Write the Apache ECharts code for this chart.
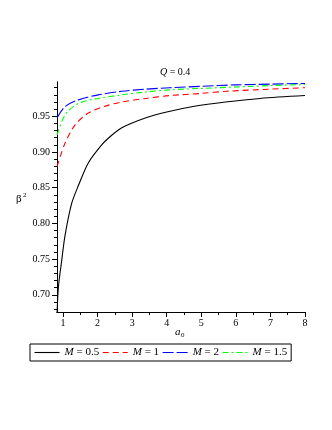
<!DOCTYPE html>
<html><head><meta charset="utf-8">
<script src="https://cdn.jsdelivr.net/npm/echarts@6/dist/echarts.min.js"></script>
<style>html,body{margin:0;padding:0;background:#fff}#c{width:332px;height:430px}</style>
</head><body><div id="c"></div>
<script>
var titleText = 'Q = 0.4';
var seriesNames = ['M = 0.5', 'M = 1', 'M = 2', 'M = 1.5'];
var xTickLabels = [1, 2, 3, 4, 5, 6, 7, 8];
var yTickLabels = [0.70, 0.75, 0.80, 0.85, 0.90, 0.95];

var aM05 = [0.83, 0.867, 0.962, 1.058, 1.25, 1.445, 1.735, 2.12, 2.35, 2.70, 3.4, 4.0, 4.8, 5.7, 6.7, 8.0];
var bM05 = [0.676, 0.711, 0.748, 0.783, 0.828, 0.853, 0.885, 0.910, 0.921, 0.934, 0.948, 0.956, 0.964, 0.970, 0.975, 0.979];

var aM1 = [0.83, 1.06, 1.35, 1.73, 2.21, 2.70, 3.4, 4.09, 5.0, 5.73, 7.0, 8.0];
var bM1 = [0.880, 0.9125, 0.938, 0.9545, 0.964, 0.970, 0.975, 0.979, 0.982, 0.985, 0.988, 0.990];

var aM2 = [0.83, 1.06, 1.445, 2.02, 2.70, 3.4, 4.09, 5.0, 6.0, 7.0, 8.0];
var bM2 = [0.948, 0.9636, 0.973, 0.980, 0.985, 0.988, 0.990, 0.992, 0.994, 0.995, 0.996];

var aM15 = [0.83, 1.06, 1.445, 2.02, 2.70, 3.4, 4.09, 5.0, 6.0, 7.0, 8.0];
var bM15 = [0.924, 0.952, 0.968, 0.975, 0.980, 0.984, 0.987, 0.989, 0.991, 0.993, 0.9945];

function pairs(a, b) { return a.map(function (v, i) { return [v, b[i]]; }); }

var xMinor = [];
for (var i = 1; i <= 8.001; i += 0.5) xMinor.push(+i.toFixed(1));
var yMinor = [];
for (var j = 68; j <= 99; j++) yMinor.push(j / 100);

var FONT = 'Liberation Serif';
var chart = echarts.init(document.getElementById('c'), null, {renderer: 'canvas'});

function mkSeries(name, a, b, color, dash) {
  return {
    name: name, type: 'line', data: pairs(a, b), showSymbol: false, symbol: 'none',
    smooth: 0.3, xAxisIndex: 0, yAxisIndex: 0,
    lineStyle: {color: color, width: 1.1, type: dash}, itemStyle: {color: color},
    animation: false
  };
}

var grid = {left: 57, right: 27, top: 82, bottom: 118};
var xCommon = {type: 'value', min: 0.826, max: 8, position: 'bottom', offset: 0, splitLine: {show: false},
  axisLine: {onZero: false, lineStyle: {color: '#000', width: 1}}};
var yCommon = {type: 'value', min: 0.676, max: 0.998, position: 'left', offset: 0, splitLine: {show: false},
  axisLine: {onZero: false, lineStyle: {color: '#000', width: 1}}};

chart.setOption({
  backgroundColor: '#fff',
  animation: false,
  grid: grid,
  xAxis: [
    Object.assign({}, xCommon, {
      axisTick: {show: true, length: 3, customValues: xMinor, lineStyle: {color: '#000'}},
      axisLabel: {show: false}
    }),
    Object.assign({}, xCommon, {
      axisTick: {show: true, length: 5, customValues: xTickLabels, lineStyle: {color: '#000'}},
      axisLabel: {show: true, customValues: xTickLabels, fontFamily: FONT, fontSize: 10, color: '#000', margin: 6}
    })
  ],
  yAxis: [
    Object.assign({}, yCommon, {
      axisTick: {show: true, length: 3, customValues: yMinor, lineStyle: {color: '#000'}},
      axisLabel: {show: false}
    }),
    Object.assign({}, yCommon, {
      axisTick: {show: true, length: 5, customValues: yTickLabels, lineStyle: {color: '#000'}},
      axisLabel: {show: true, customValues: yTickLabels, fontFamily: FONT, fontSize: 10, color: '#000', margin: 7,
        formatter: function (v) { return v.toFixed(2); }}
    })
  ],
  legend: {
    left: 30, top: 344, orient: 'horizontal', selectedMode: false,
    itemWidth: 25, itemHeight: 10, itemGap: 3,
    padding: [3, 4], borderColor: '#000', borderWidth: 1,
    itemStyle: {opacity: 0},
    lineStyle: {width: 1.1},
    data: seriesNames,
    textStyle: {fontFamily: FONT, fontSize: 11, color: '#000', lineHeight: 11,
      rich: {i: {fontFamily: FONT, fontSize: 11, fontStyle: 'italic', color: '#000'},
             n: {fontFamily: FONT, fontSize: 11, color: '#000'}}},
    formatter: function (name) {
      var parts = name.split(' ');
      return '{i|' + parts[0] + '}{n| ' + parts.slice(1).join(' ') + '}';
    }
  },
  graphic: [
    {type: 'text', left: 160, top: 67, style: {
      rich: {i: {fontFamily: FONT, fontSize: 10, fontStyle: 'italic', fill: '#000'},
             n: {fontFamily: FONT, fontSize: 10, fill: '#000'}},
      text: '{i|Q}{n| = 0.4}'}},
    {type: 'text', left: 16, top: 194, style: {text: 'β', font: '11px "Liberation Serif"', fill: '#000'}},
    {type: 'text', left: 23, top: 192, style: {text: '2', font: '7px "Liberation Serif"', fill: '#000'}},
    {type: 'text', left: 175, top: 327, style: {text: 'a', font: 'italic 11px "Liberation Serif"', fill: '#000'}},
    {type: 'text', left: 181, top: 332, style: {text: '0', font: '7px "Liberation Serif"', fill: '#000'}}
  ],
  series: [
    mkSeries(seriesNames[0], aM05, bM05, '#000000', 'solid'),
    mkSeries(seriesNames[1], aM1, bM1, '#ff0000', [6, 4]),
    mkSeries(seriesNames[2], aM2, bM2, '#0000ff', [11, 3]),
    mkSeries(seriesNames[3], aM15, bM15, '#00ff00', [6, 3, 2, 3])
  ]
});
</script>
</body></html>
